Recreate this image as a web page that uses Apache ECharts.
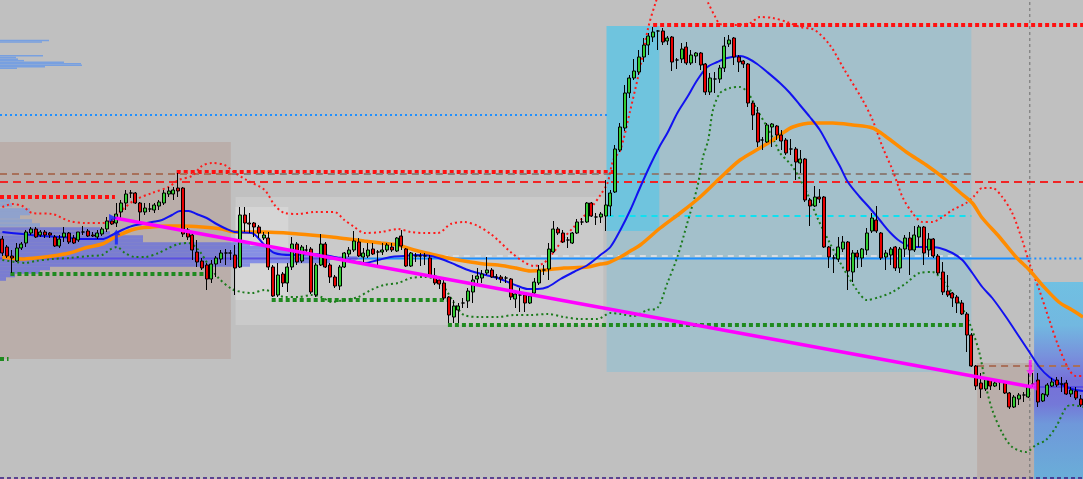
<!DOCTYPE html>
<html><head><meta charset="utf-8">
<script src="https://cdn.jsdelivr.net/npm/echarts/dist/echarts.min.js"></script>
<style>html,body{margin:0;padding:0;background:#c0c0c0;overflow:hidden}#c{width:1083px;height:479px}</style>
</head><body><div id="c"></div>
<script>
// ---------- DATA (prices in chart points) ----------
// candles: [open, close, low, high]
const candles = [
[261,247,244,264],[253,244,242,255],[244,242,227,250],[239,252,238,257],[252,256,250,258],
[257,268,253,270],[267,271,265,273],[271,263,262,273],[265,268,263,270],[268,265,262,270],
[267,265,262,268],[263,254,253,265],[254,261,252,265],[263,267,258,273],[267,258,256,268],
[262,257,256,265],[260,268,258,268],[268,268,265,274],[269,264,263,271],[265,264,263,268],
[263,267,261,270],[266,271,264,273],[271,279,268,283],[279,276,275,281],[277,286,273,297],
[288,297,280,300],[297,306,290,310],[307,307,302,310],[307,297,296,308],[297,288,278,298],
[288,292,285,297],[291,291,288,297],[290,295,287,297],[294,298,290,300],[297,307,295,310],
[306,309,303,313],[306,310,300,313],[312,309,303,327],[312,266,263,313],[270,263,260,272],
[265,250,240,267],[248,238,233,260],[239,232,230,242],[235,221,210,237],[221,236,217,240],
[236,242,223,244],[241,247,237,250],[247,247,235,251],[247,247,240,250],[245,232,205,255],
[233,285,232,293],[285,277,268,293],[277,276,267,287],[277,273,263,278],[273,267,262,275],
[262,265,260,268],[262,233,230,268],[233,204,203,235],[205,225,203,237],[226,217,213,228],
[217,233,208,237],[233,256,230,263],[256,238,235,258],[239,253,237,255],[250,250,246,255],
[251,208,206,253],[205,235,203,237],[235,256,234,266],[256,233,232,258],[235,223,217,237],
[223,214,212,225],[214,233,210,235],[233,247,232,248],[246,250,243,253],[250,259,248,269],
[258,244,243,262],[243,247,238,252],[244,250,242,257],[251,246,245,257],[248,248,235,250],
[248,250,245,257],[250,255,248,257],[253,250,248,257],[249,262,248,263],[264,254,250,270],
[251,234,233,252],[234,247,233,248],[244,244,238,247],[244,244,234,247],[244,244,235,247],
[242,224,223,245],[224,217,215,232],[220,216,211,222],[217,202,200,222],[203,185,177,204],
[183,194,177,200],[190,194,177,197],[197,197,192,202],[199,209,192,212],[208,220,197,225],
[221,224,217,232],[222,226,217,230],[227,230,225,243],[230,223,222,232],[223,223,220,226],
[223,221,217,225],[222,222,217,224],[221,203,200,222],[201,206,192,210],[205,205,188,212],
[205,197,188,208],[197,204,196,207],[207,218,205,222],[217,230,215,235],[230,230,225,235],
[231,251,220,257],[248,271,247,279],[271,267,265,273],[267,258,257,270],[260,260,252,263],
[257,267,256,268],[267,278,266,281],[278,278,275,282],[278,297,277,298],[297,284,283,298],
[283,283,275,287],[283,286,277,288],[284,295,269,320],[294,307,284,310],[308,351,307,355],
[350,373,348,377],[372,407,369,415],[407,422,402,425],[422,429,420,441],[428,443,425,450],
[443,455,438,462],[455,464,445,467],[463,468,458,473],[469,469,450,470],[469,458,455,472],
[459,462,455,464],[463,438,429,464],[440,440,431,442],[441,451,437,457],[453,437,435,458],
[437,445,435,450],[444,447,437,448],[447,435,430,448],[436,408,405,437],[408,422,405,427],
[421,421,407,428],[421,432,417,435],[432,454,428,463],[456,460,453,465],[462,443,435,463],
[443,438,428,445],[439,436,432,440],[436,397,393,437],[397,385,370,399],[387,358,353,393],
[360,360,350,363],[358,375,357,377],[373,376,353,377],[374,365,360,375],[365,359,350,370],
[360,347,345,362],[351,351,345,361],[351,338,320,353],[337,341,327,350],[341,300,298,342],
[300,294,274,302],[294,303,293,314],[303,301,297,311],[303,253,252,304],[253,243,232,254],
[242,242,227,245],[241,253,238,263],[251,258,248,264],[258,229,210,259],[228,247,218,250],
[247,243,232,250],[242,251,233,252],[250,267,245,272],[269,282,267,287],[280,269,267,294],
[267,242,240,268],[243,247,230,250],[245,251,235,253],[253,232,229,254],[232,251,227,253],
[251,262,243,265],[262,250,225,268],[250,265,248,274],[263,273,253,275],[273,247,235,274],
[250,261,243,267],[261,244,242,262],[244,227,225,246],[228,208,205,238],[209,205,203,225],
[207,202,193,208],[203,197,187,205],[197,186,185,200],[186,165,148,188],[165,134,133,167],
[134,114,110,135],[117,111,102,127],[111,121,109,123],[120,114,110,122],[114,117,113,120],
[118,118,110,120],[117,107,106,118],[107,93,91,108],[93,103,92,105],[101,105,95,107],
[105,105,98,108],[103,114,102,127],[116,116,113,127],[120,98,93,127],[99,106,98,107],
[105,115,103,117],[114,118,113,122],[120,115,113,123],[116,116,108,123],[117,106,105,120],
[106,110,103,113],[109,102,100,113],[101,95,93,105]
];

// indicator lines: [bar position, price]
const maFast = [[0,268],[4.2,266],[8.4,264],[12.6,263],[16.8,261],[21,261],[23.1,265],[25.2,270],[27.3,274],[29.4,276],[31.5,278],[33.6,280],[35.7,285],[37.4,289],[39.2,289],[40.9,286],[43,282],[45.1,276],[47.2,271],[48.9,268],[52.5,267],[55.2,255],[57.3,247],[60.9,245],[65.1,246],[67.8,245],[70.7,242],[73.5,239],[76.2,237],[79.1,240],[81.8,243],[84.6,244],[87.1,245],[90.2,244],[93,240],[95.5,235],[98.6,229],[101.8,225],[104.3,222],[108.5,214],[110.6,211],[112.7,211],[114.8,213],[117.5,221],[120.3,228],[123.2,235],[125.9,245],[128,253],[130.1,270],[132.2,290],[134.3,313],[136.4,335],[138.3,353],[140,367],[142.1,387],[144.2,403],[146.3,420],[148.4,433],[150.5,438],[152.6,442],[155.3,444],[156.8,442],[158.9,436],[161,428],[163.7,417],[165.8,407],[167.9,395],[170,383],[172.1,370],[174.2,352],[176.3,334],[178,318],[180.5,303],[182.6,292],[184.7,280],[186.8,268],[188.9,259],[191.6,253],[194.5,253],[197.3,252],[200,247],[202.1,240],[204.2,227],[206.3,213],[208.4,202],[211.3,183],[214.1,163],[216.2,148],[218.3,133],[220.4,123],[223.1,115],[225.2,111],[227.5,109]];

const maSlow = [[0,243],[4.2,241],[6.9,242],[10.5,244],[14.1,247],[17.4,252],[21,256],[23.7,263],[27.9,271],[31.5,273],[35,274],[37.8,274],[42,273],[46.2,271],[48.9,268],[55.2,268],[62.3,266],[69.3,263],[72.8,261],[76.2,259],[79.7,257],[83.3,255],[86.7,250],[90.2,246],[93.8,242],[97.2,239],[101.4,236],[104.3,235],[108.1,232],[111.2,229],[114.4,230],[118.2,232],[123.2,233],[125.9,236],[127.4,237],[130.1,243],[132.2,249],[134.3,255],[138.5,272],[142.7,287],[146.9,303],[151.1,322],[155.3,340],[159.5,352],[162.2,360],[163.7,365],[166.4,373],[170.6,377],[174.8,377],[179,375],[183.2,372],[186.1,363],[190.3,348],[194.5,335],[197.9,323],[201.5,308],[204.2,297],[206.3,282],[209.9,263],[213.4,243],[216.2,230],[218.9,215],[222.4,198],[225.2,190],[227.5,183]];

const bandUpper = [[0,293],[2.1,296],[4.2,294],[6.3,287],[10.5,286],[14.1,279],[17.4,277],[21,277],[23.1,280],[25.2,290],[27.9,300],[31.5,307],[35,313],[37.1,320],[39.9,324],[42,334],[44.1,337],[46.8,335],[48.7,328],[51.4,320],[55.2,310],[57.3,295],[59.4,287],[62.3,286],[65.7,288],[69.9,288],[72,280],[74.1,273],[76.2,267],[79.7,268],[83.3,271],[86,268],[88.8,267],[91.7,267],[94.4,276],[97.2,278],[100.1,274],[102.8,266],[104.3,260],[107,248],[109.8,238],[111.9,234],[114,237],[116.1,248],[118.2,262],[120.3,273],[122.3,283],[124.4,295],[125.9,305],[127.4,317],[128.6,340],[130.1,350],[132.2,390],[134.3,433],[136,473],[137.5,497],[139.6,525],[142.7,535],[145.9,525],[148.6,497],[150.1,483],[151.1,476],[153.8,475],[157.4,477],[159.5,483],[162.2,482],[165.2,478],[167.9,473],[171,470],[174.2,455],[177.3,430],[181.1,400],[183.2,380],[185.3,353],[187.4,330],[189.5,303],[191.6,287],[193.7,278],[195.8,278],[197.9,283],[200,290],[202.9,297],[204.6,304],[206.3,312],[208.4,312],[210.5,303],[212.6,287],[214.7,260],[216.2,237],[218.3,210],[220.4,180],[222.4,153],[224.6,130],[226,124],[227.5,124]];

const bandLower = [[0,240],[2.7,238],[4.8,237],[6.9,239],[10.5,241],[14.1,242],[18.3,244],[21,245],[22.5,250],[24.1,253],[25.8,247],[27.9,243],[30,243],[32.9,247],[35,252],[37.1,256],[39.2,257],[41.3,250],[43.4,235],[45.5,222],[48.3,211],[50.4,208],[52.5,207],[55.2,210],[57.3,207],[59.4,203],[62.3,203],[65.1,205],[67.2,203],[69.3,198],[72,200],[74.9,203],[77.6,210],[80.4,215],[83.3,217],[86,222],[88.8,223],[91.7,220],[93.4,210],[95.1,197],[97.2,185],[100.7,183],[104.3,183],[107.7,185],[111.2,185],[114.8,186],[118.2,183],[121.7,181],[125.3,181],[128,187],[130.1,186],[132.8,184],[135.8,190],[137.9,192],[140,217],[142.1,243],[144.2,277],[146.3,313],[147.5,343],[148.6,360],[149.6,390],[151.1,407],[153.2,412],[155.3,413],[157,407],[158.9,390],[161,373],[163.1,353],[163.7,347],[166.4,333],[169.4,307],[171.5,283],[174.2,257],[176.9,233],[179.9,210],[182,200],[184.7,203],[187.4,208],[190.3,217],[193.1,227],[195.8,228],[197.9,220],[200,207],[201.5,197],[203.6,177],[205.7,147],[207.1,113],[208.4,90],[210.5,67],[212.6,53],[215.5,48],[217.6,55],[219.7,60],[221.8,73],[224,93],[225.2,95],[227.5,93]];

const trendLine = [[23.7,282],[216.8,113]];

// horizontal levels: [from bar, to bar, price]
const lvlRedDots = [[-0.5,23.7,303],[36.7,128.6,328],[137,227.5,475]];
const lvlGreenDots = [[1.7,42.6,226],[-0.5,1.3,141],[56.7,93.8,200],[93.8,203,175]];
const lvlBlueDotted = [[-0.5,127.4,385],[216.2,227.5,241.5]];
const lvlRedDashed = [[-0.5,227.5,318]];
const lvlBrownDashed = [[-0.5,48.3,326],[205.2,227.5,134]];
const lvlGrayDashed = [[48.3,204,326]];
const lvlCyanDashed = [[127.4,204,284]];
const lvlLightDashed = [[90.2,204,244]];
const lvlBlueSolid = [[75,216.2,241.5]];
const lvlPurpleSolid = [[-0.5,75,241.5],[217.2,227.5,113]];
const lvlNavyDashed = [[-0.5,227.5,22]];
const vLine = [[216.3,21],[216.3,500]];

// zones: [from bar, to bar, top price, bottom price]
const zones = [
  [-0.5,48.1,358,141],
  [49.1,126.5,303,175],
  [49.1,60.2,293,200],
  [127.2,204,474,128],
  [127.2,138.3,474,269],
  [205.2,217.2,137,21],
  [217.2,227.5,218,21]
];

// volume profiles: price levels and volumes
const profileTopLevels = [459.5,458,444.2,442.5,440.8,439.3,437.8,436.3,434.8,433.3,431.8];
const profileTopVolumes = [49,42,43,16,18,24,64,81,82,45,17];
const profileUpperLevels = [299,295,290,286.5,283,279,275];
const profileUpperVolumes = [10,12,30,30,20,32,40];
const profileMainLevels = [271,267,263,259.5,256,252.5,249,245.5,242,238.5,235,231.5,228,224.5,221];
const profileMainVolumes = [100,110,143,143,250,270,290,313,357,330,250,50,40,15,6];

// signal markers: [bar, price]
const sigBuyArrow = [[24,263]];
const sigBuyFlag = [[23.3,282]];
const sigDownArrow = [[216.4,132]];
const sigTrendEnd = [[216.8,114]];

// ---------- CHART ----------
const N = candles.length;
const categories = candles.map((_, i) => 'Bar ' + (i + 1));
const chart = echarts.init(document.getElementById('c'), null, {renderer: 'canvas'});

const hidden = {show:false, axisLine:{show:false}, axisTick:{show:false}, axisLabel:{show:false}, splitLine:{show:false}};

const zoneFills = [
  '#baaeaa', '#cacaca', '#d5d5d5', '#a3c0cb', '#6fc4de', '#baaeaa',
  new echarts.graphic.LinearGradient(0,0,0,1,[
    {offset:0,color:'#70c0e2'},{offset:0.22,color:'#72b8e0'},{offset:0.38,color:'#7890dc'},
    {offset:0.5,color:'#7670d8'},{offset:0.62,color:'#7478d8'},{offset:0.72,color:'#6f98da'},
    {offset:1,color:'#6aaed8'}])
];

function levelSeries(list, style, z) {
  return list.map(s => ({
    type:'line', xAxisIndex:1, yAxisIndex:0, z: z || 3, silent:true, symbol:'none',
    data:[[s[0], s[2]],[s[1], s[2]]], lineStyle: style, animation:false
  }));
}
function profileSeries(levels, vols, binH, color) {
  return {
    type:'custom', xAxisIndex:2, yAxisIndex:0, z:2, silent:true, animation:false,
    data: levels.map((p, i) => [vols[i], p]),
    encode:{x:0, y:1},
    renderItem:(params, api) => {
      const v = api.value(0), p = api.value(1);
      const a = api.coord([0, p + binH/2]);
      const b = api.coord([v, p - binH/2]);
      return {type:'rect', shape:{x:a[0], y:a[1], width:b[0]-a[0], height:b[1]-a[1]}, style:{fill:color}};
    }
  };
}

const series = [
  {
    type:'custom', xAxisIndex:1, yAxisIndex:0, z:1, silent:true, animation:false,
    data: zones, encode:{x:[0,1], y:[2,3]},
    renderItem:(params, api) => {
      const a = api.coord([api.value(0), api.value(2)]);
      const b = api.coord([api.value(1), api.value(3)]);
      return {type:'rect', shape:{x:a[0], y:a[1], width:b[0]-a[0], height:b[1]-a[1]}, style:{fill: zoneFills[params.dataIndex]}};
    }
  },
  profileSeries(profileTopLevels, profileTopVolumes, 1.6, '#78a0e0'),
  profileSeries(profileUpperLevels, profileUpperVolumes, 3.6, 'rgba(100,150,240,0.5)'),
  profileSeries(profileMainLevels, profileMainVolumes, 3.6, 'rgba(70,85,240,0.55)'),
  ...levelSeries(lvlRedDots, {color:'#ff1010', width:4, type:[4,3]}),
  ...levelSeries(lvlGreenDots, {color:'#1f8a1f', width:4, type:[4,3]}),
  ...levelSeries(lvlBlueDotted, {color:'#1e90ff', width:2, type:[2,3]}),
  ...levelSeries(lvlRedDashed, {color:'#f02525', width:2, type:[8,5]}),
  ...levelSeries(lvlBrownDashed, {color:'#a8705a', width:2, type:[7,5]}),
  ...levelSeries(lvlGrayDashed, {color:'#8a7e78', width:2, type:[7,5]}),
  ...levelSeries(lvlCyanDashed, {color:'#10e0f0', width:2, type:[6,5]}),
  ...levelSeries(lvlLightDashed, {color:'#d8dde2', width:2, type:[6,5]}),
  ...levelSeries(lvlBlueSolid, {color:'#1e90ff', width:2}),
  ...levelSeries(lvlPurpleSolid, {color:'#5a50e0', width:2}),
  ...levelSeries(lvlNavyDashed, {color:'#3a1a80', width:1.5, type:[4,3]}),
  {type:'line', xAxisIndex:1, yAxisIndex:0, z:3, silent:true, symbol:'none', data:vLine,
   lineStyle:{color:'#6e6e6e', width:1, type:[3,3]}},
  {type:'line', xAxisIndex:1, yAxisIndex:0, z:4, silent:true, symbol:'none', smooth:0.3, data:bandUpper,
   lineStyle:{color:'#ff1a1a', width:2, type:[2,3]}},
  {type:'line', xAxisIndex:1, yAxisIndex:0, z:4, silent:true, symbol:'none', smooth:0.3, data:bandLower,
   lineStyle:{color:'#1b7a1b', width:2, type:[2,3]}},
  {type:'line', xAxisIndex:1, yAxisIndex:0, z:4, silent:true, symbol:'none', smooth:0.3, data:maSlow,
   lineStyle:{color:'#ff8c00', width:3.5}},
  {type:'line', xAxisIndex:1, yAxisIndex:0, z:4, silent:true, symbol:'none', smooth:0.3, data:maFast,
   lineStyle:{color:'#1212f0', width:2}},
  {type:'candlestick', xAxisIndex:0, yAxisIndex:0, z:5, silent:true, barWidth:3.4, data:candles,
   itemStyle:{color:'#32cd32', color0:'#e80000', borderColor:'#000', borderColor0:'#000', borderWidth:1}},
  {type:'line', xAxisIndex:1, yAxisIndex:0, z:6, silent:true, symbol:'none', data:trendLine,
   lineStyle:{color:'#ff00ff', width:3.5}},
  {type:'scatter', xAxisIndex:1, yAxisIndex:0, z:7, silent:true, data:sigBuyArrow,
   symbol:'path://M4,0 L8,6 L5.5,6 L5.5,16 L2.5,16 L2.5,6 L0,6 Z', symbolSize:[8,15], itemStyle:{color:'#1020ff'}},
  {type:'scatter', xAxisIndex:1, yAxisIndex:0, z:7, silent:true, data:sigBuyFlag,
   symbol:'triangle', symbolSize:8, symbolRotate:-90, itemStyle:{color:'#1020ff'}},
  {type:'scatter', xAxisIndex:1, yAxisIndex:0, z:7, silent:true, data:sigDownArrow,
   symbol:'path://M2.5,0 L5.5,0 L5.5,10 L8,10 L4,16 L0,10 L2.5,10 Z', symbolSize:[8,16], itemStyle:{color:'#ff10ff'}},
  {type:'scatter', xAxisIndex:1, yAxisIndex:0, z:7, silent:true, data:sigTrendEnd,
   symbol:'triangle', symbolSize:9, symbolRotate:90, itemStyle:{color:'#ff10ff'}}
];

chart.setOption({
  animation:false,
  backgroundColor:'#c0c0c0',
  grid:{left:-2.4, top:0, width:1086.4, height:479, containLabel:false},
  xAxis:[
    Object.assign({type:'category', data:categories, boundaryGap:true}, hidden),
    Object.assign({type:'value', min:-0.5, max:N-0.5}, hidden),
    Object.assign({type:'value', min:0, max:1083}, hidden)
  ],
  yAxis:[Object.assign({type:'value', min:21, max:500}, hidden)],
  series: series
});
</script></body></html>
